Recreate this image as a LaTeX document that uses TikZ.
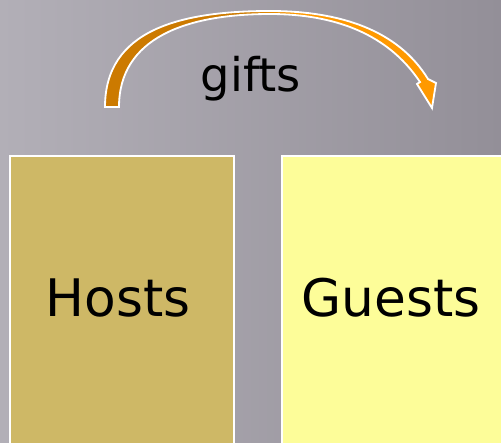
\documentclass[tikz,border=0pt]{standalone}
\usepackage{fontspec}
\setmainfont{DejaVu Sans}
\usetikzlibrary{positioning}
\definecolor{cbgl}{HTML}{B2AFB7}
\definecolor{cbgm}{HTML}{9F9BA4}
\definecolor{cbgr}{HTML}{938F98}
\definecolor{chost}{HTML}{CEB866}
\definecolor{cguest}{HTML}{FDFD99}
\definecolor{cdark}{HTML}{CC7A00}
\definecolor{cbright}{HTML}{FF9900}
\pgfdeclarehorizontalshading{giftshade}{100bp}{color(0bp)=(cdark); color(46bp)=(cdark); color(54bp)=(cbright); color(100bp)=(cbright)}
\tikzset{
  every picture/.style={x=0.025cm, y=-0.025cm},
  panel/.style={draw=white, fill=#1, line width=1.4pt, anchor=north west, minimum height=7.6cm, inner sep=0pt},
  word/.style={font=\fontsize{36.8pt}{40pt}\selectfont, anchor=base, inner sep=0pt},
  gift/.style={shade, shading=giftshade, draw=white, line width=1.3pt, line join=miter},
}

\begin{document}
\begin{tikzpicture}
  \useasboundingbox (0,0) rectangle (501,442);
  \clip (0,0) rectangle (501,442);
  \fill[left color=cbgl, middle color=cbgm, right color=cbgr] (0,0) rectangle (501,442);
  % Hosts and Guests
  \node[panel=chost, minimum width=5.6cm] (hosts) at (9,155) {};
  \node[panel=cguest, minimum width=5.55cm] (guests) at (281,155) {};
  \node[word] (hoststxt) at (118,316) {Hosts};
  \node[word] (gueststxt) at (391,316.5) {Guests};
  % gifts arrow
  \coordinate (gift tail) at (105,107);
  \coordinate (gift tip) at (432,108);
  \path[gift] (gift tail) .. controls (105,30) and (180,11) .. (270,11)
    .. controls (340,11) and (398,30) .. (428,79)
    -- (436,83) -- (gift tip) -- (417,84) -- (420,82)
    .. controls (388,34) and (335,14) .. (270,14)
    .. controls (186,14) and (119,38) .. (119,107) -- cycle;
  \node[word, font=\fontsize{33pt}{36pt}\selectfont] (giftstxt) at (251,91.7) {gifts};
\end{tikzpicture}
\end{document}
